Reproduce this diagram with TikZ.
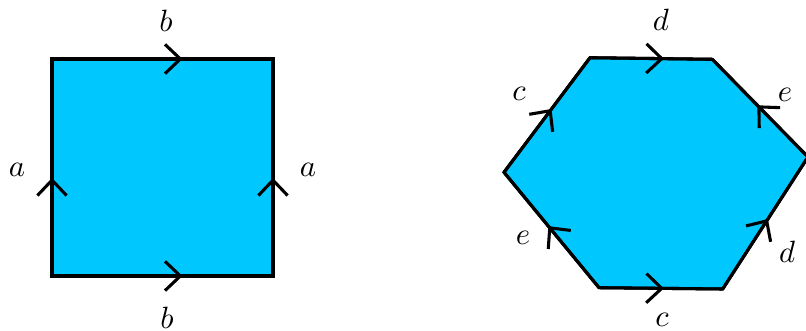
\documentclass[tikz,border=0pt]{standalone}
\usepackage{tikz}
\usetikzlibrary{arrows.meta,decorations.markings}
\definecolor{gface}{HTML}{00C8FF}
\tikzset{
  gpoly/.style={fill=gface, draw=black, line width=1pt, line join=miter},
  gedge/.style={draw=black, line width=1pt},
  gmark/.style={gedge, postaction={decorate}, decoration={markings,
      mark=at position #1 with {\arrow{Straight Barb[length=5pt,width=9.5pt,line width=1pt]}}}},
  glbl/.style={inner sep=0pt},
}

\begin{document}
\begin{tikzpicture}[x=0.325pt,y=-0.325pt]
  \useasboundingbox (0,0) rectangle (806,331);

  % --- square ---
  \coordinate (s1) at (52,276);
  \coordinate (s2) at (273,276);
  \coordinate (s3) at (273,59);
  \coordinate (s4) at (52,59);
  \draw[gpoly] (s1) -- (s2) -- (s3) -- (s4) -- cycle;
  \draw[gmark=0.591] (s1) -- (s2);
  \draw[gmark=0.591] (s4) -- (s3);
  \draw[gmark=0.452] (s1) -- (s4);
  \draw[gmark=0.452] (s2) -- (s3);
  \node[glbl] (sqtop) at (166,21) {$b$};
  \node[glbl] (sqbot) at (167,318) {$b$};
  \node[glbl] (sqleft) at (17,170) {$a$};
  \node[glbl] (sqright) at (308,170) {$a$};

  % --- hexagon ---
  \coordinate (h1) at (504,172.3);
  \coordinate (h2) at (590,57.7);
  \coordinate (h3) at (712.3,59.3);
  \coordinate (h4) at (808,157);
  \coordinate (h5) at (722.7,289);
  \coordinate (h6) at (599,287.7);
  \draw[gpoly] (h1) -- (h2) -- (h3) -- (h4) -- (h5) -- (h6) -- cycle;
  \draw[gmark=0.553] (h1) -- (h2);
  \draw[gmark=0.605] (h2) -- (h3);
  \draw[gmark=0.53] (h4) -- (h3);
  \draw[gmark=0.53] (h5) -- (h4);
  \draw[gmark=0.525] (h6) -- (h5);
  \draw[gmark=0.534] (h6) -- (h1);
  \node[glbl] (hxtop) at (661,20) {$d$};
  \node[glbl] (hxtl) at (519,94) {$c$};
  \node[glbl] (hxtr) at (785,95) {$e$};
  \node[glbl] (hxbl) at (523,238) {$e$};
  \node[glbl] (hxbr) at (787,252) {$d$};
  \node[glbl] (hxbot) at (662,320) {$c$};

\end{tikzpicture}
\end{document}
